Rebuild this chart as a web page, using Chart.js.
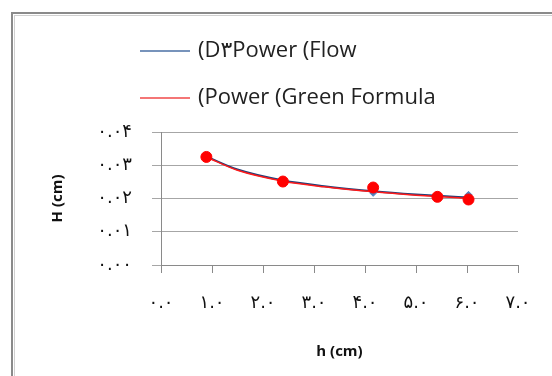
<!DOCTYPE html>
<html>
<head>
<meta charset="utf-8">
<script src="https://cdn.jsdelivr.net/npm/chart.js@4.4.0/dist/chart.umd.min.js"></script>
<style>
html, body { margin: 0; padding: 0; background: #fff; }
</style>
</head>
<body>
<canvas id="myChart" width="552" height="376"></canvas>
<script>
"use strict";

// measured points, h (cm) vs H (cm)
const hValues = [0.89, 2.39, 4.16, 5.42, 6.03];
const flowH = [0.0326, 0.0254, 0.0217, 0.0209, 0.0211];
const greenH = [0.0325, 0.0251, 0.0233, 0.0205, 0.0197];

// trendlines
const trendX = [0.89, 1.5, 2.4, 3.2, 4.16, 5.0, 5.42, 6.03];
const flowTrend = [0.0326, 0.0287, 0.0254, 0.0237, 0.0222, 0.0212, 0.0208, 0.0203];
const greenTrend = [0.0325, 0.0285, 0.0252, 0.0235, 0.0220, 0.0210, 0.0206, 0.0200];

const legendLabels = ["(D۳Power (Flow", "(Power (Green Formula"];
const xTicks = [0, 1, 2, 3, 4, 5, 6, 7];
const yTicks = [0, 0.01, 0.02, 0.03, 0.04];

const ctx = document.getElementById("myChart");

function toFa(s) {
    return s.replace(/\d/g, (d) => "۰۱۲۳۴۵۶۷۸۹"[d]);
}

function pairs(xs, ys) {
    return xs.map((x, i) => ({ x: x, y: ys[i] }));
}

// frame + two line legend, drawn by hand
const extras = {
    id: "extras",
    beforeDraw(chart) {
        const c = chart.ctx;
        c.save();
        c.strokeStyle = "#8a8a8a";
        c.lineWidth = 2;
        c.strokeRect(12, 13, 600, 400);
        c.strokeStyle = "#d0d0d0";
        c.lineWidth = 1;
        c.strokeRect(14.5, 15.5, 600, 400);
        c.restore();
    },
    afterDraw(chart) {
        const c = chart.ctx;
        const rows = [{ y: 51, color: "#4a6fa5" }, { y: 98, color: "#f04848" }];
        c.save();
        c.font = "22px 'Open Sans', 'DejaVu Sans', sans-serif";
        c.textBaseline = "middle";
        c.fillStyle = "#222";
        rows.forEach((row, i) => {
            c.strokeStyle = row.color;
            c.lineWidth = 1.5;
            c.beginPath();
            c.moveTo(140, row.y);
            c.lineTo(190, row.y);
            c.stroke();
            c.fillText(legendLabels[i], 198, row.y);
        });
        c.restore();
    }
};

const myChart = new Chart(ctx, {
    type: "scatter",
    data: {
        datasets: [
            {
                label: "Green Formula",
                data: pairs(hValues, greenH),
                backgroundColor: "#ff0000",
                borderColor: "#ff0000",
                pointRadius: 5.5,
                pointHoverRadius: 5.5,
                order: 1
            },
            {
                label: "Flow",
                data: pairs(hValues, flowH),
                pointStyle: "rectRot",
                backgroundColor: "#4f81bd",
                borderColor: "#4f81bd",
                pointRadius: 3.5,
                order: 2
            },
            {
                label: legendLabels[1],
                data: pairs(trendX, greenTrend),
                showLine: true,
                borderColor: "#ff1a1a",
                borderWidth: 1.5,
                pointRadius: 0,
                cubicInterpolationMode: "monotone",
                order: 3
            },
            {
                label: legendLabels[0],
                data: pairs(trendX, flowTrend),
                showLine: true,
                borderColor: "#1f3f78",
                borderWidth: 2,
                pointRadius: 0,
                cubicInterpolationMode: "monotone",
                order: 4
            }
        ]
    },
    options: {
        responsive: false,
        animation: false,
        layout: {
            padding: { left: 46, right: 34, top: 132, bottom: 0 }
        },
        plugins: {
            legend: { display: false },
            tooltip: { enabled: false }
        },
        scales: {
            x: {
                type: "linear",
                min: 0,
                max: 7,
                afterBuildTicks: (scale) => {
                    scale.ticks = xTicks.map((v) => ({ value: v }));
                },
                afterFit: (scale) => {
                    scale.height = 111;
                },
                grid: {
                    drawOnChartArea: false,
                    color: "#8a8a8a",
                    tickLength: 8
                },
                border: { color: "#8a8a8a" },
                ticks: {
                    padding: 20,
                    maxRotation: 0,
                    color: "#111",
                    font: { family: "'DejaVu Sans', sans-serif", size: 18 },
                    callback: (v) => toFa(Number(v).toFixed(1))
                },
                title: {
                    display: true,
                    text: "h (cm)",
                    color: "#111",
                    font: { family: "'Open Sans', sans-serif", size: 15, weight: "bold" },
                    padding: { top: 0, bottom: 15 }
                }
            },
            y: {
                min: 0,
                max: 0.04,
                afterBuildTicks: (scale) => {
                    scale.ticks = yTicks.map((v) => ({ value: v }));
                },
                afterFit: (scale) => {
                    scale.width = 115;
                },
                grid: {
                    color: "#a6a6a6",
                    tickLength: 9
                },
                border: { color: "#8a8a8a" },
                ticks: {
                    padding: 20,
                    color: "#111",
                    font: { family: "'DejaVu Sans', sans-serif", size: 18 },
                    callback: (v) => toFa(Number(v).toFixed(2))
                },
                title: {
                    display: true,
                    text: "H (cm)",
                    color: "#111",
                    font: { family: "'Open Sans', sans-serif", size: 15, weight: "bold" },
                    padding: { top: 3, bottom: 0 }
                }
            }
        }
    },
    plugins: [extras]
});
</script>
</body>
</html>
